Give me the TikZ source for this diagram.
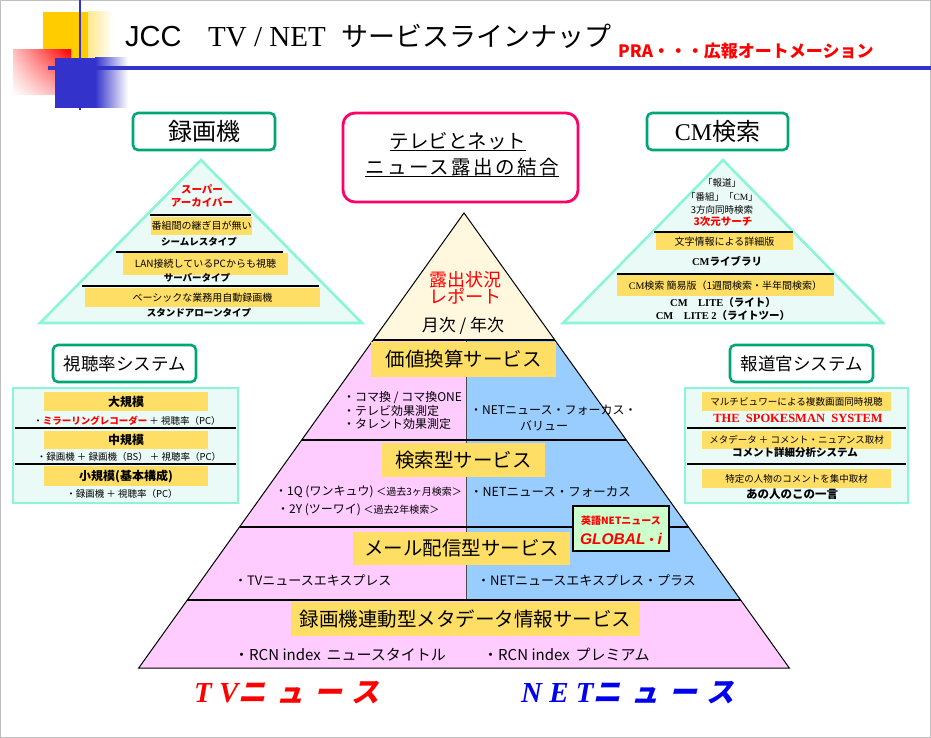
\documentclass[tikz,border=0pt]{standalone}
\usepackage{fontspec}
\setmainfont{Noto Sans CJK JP}
\newfontfamily\tms{Liberation Serif}
\newfontfamily\arl{Liberation Sans}
\newfontfamily\jpwide[LetterSpace=12]{Noto Sans CJK JP}
\newfontfamily\jpsl[FakeSlant=0.22,LetterSpace=36]{Noto Sans CJK JP}
\newfontfamily\tmssl[LetterSpace=25]{Liberation Serif}
\usetikzlibrary{positioning,shadings}
\newcommand\fsz[1]{\fontsize{#1}{#1}\selectfont}

\definecolor{ylw}{RGB}{255,222,102}
\definecolor{sqylw}{RGB}{255,204,0}
\definecolor{pinkfill}{RGB}{255,204,255}
\definecolor{bluefill}{RGB}{153,204,255}
\definecolor{cream}{RGB}{255,247,222}
\definecolor{aqua}{RGB}{140,245,215}
\definecolor{aquafill}{RGB}{234,251,247}
\definecolor{grn}{RGB}{0,166,118}
\definecolor{rose}{RGB}{255,0,102}
\definecolor{bar}{RGB}{51,51,204}
\definecolor{lgrn}{RGB}{204,255,204}
\definecolor{netblue}{RGB}{0,0,238}

\begin{document}
\begin{tikzpicture}[x=1pt,y=-1pt,
  titlebox/.style={draw=grn,line width=2.6pt,rounded corners=5pt,fill=white,inner sep=0pt},
  band/.style={fill=ylw,inner sep=0pt},
  divline/.style={line width=2.6pt},
  aquaarea/.style={draw=aqua,line width=2.6pt,fill=aquafill},
  txt/.style={inner sep=0pt}]
\useasboundingbox (0,0) rectangle (931,738);
\draw[black!25] (0.5,0.5) rectangle (930.5,737.5);

% corner squares and title
\fill[sqylw] (43,12) rectangle (88,58);
\shade[left color=sqylw!45,right color=white] (88,12) rectangle (113,58);
\shade[upper right=red,upper left=red!25,lower right=red!35,lower left=white] (13,50) rectangle (71,95);
\fill[bar] (55,58) rectangle (95,108);
\shade[left color=bar,right color=white] (95,58) rectangle (128,108);
\draw[bar,line width=1.2pt] (80,0) -- (80,110);
\draw[bar,line width=4pt] (48,68) -- (931,68);
\node[txt,anchor=base west,font=\arl\fsz{29}] (ttlA) at (125,47) {JCC};
\node[txt,anchor=base west,font=\tms\fsz{29}] (ttlB) at (208,47) {TV / NET};
\node[txt,anchor=base west,font=\fsz{27}] (ttlC) at (341,47) {サービスラインナップ};
\node[txt,anchor=base west,font=\bfseries\fsz{17},text=red] (pra) at (618,58) {PRA・・・広報オートメーション};

% heading boxes
\node[titlebox,minimum width=142,minimum height=37,font=\fsz{24}] (rokuga) at (204,131.5) {録画機};
\node[titlebox,minimum width=141,minimum height=37,font=\fsz{24}] (cmken) at (717.5,131.5) {{\tms CM}検索};
\draw[rose,line width=2.8pt,rounded corners=12pt,fill=white] (343,113) rectangle (578,202);
\node[txt,font=\fsz{19.5}] (ct1) at (458,141) {テレビとネット};
\node[txt,font=\jpwide\fsz{19.5}] (ct2) at (462,167) {ニュース露出の結合};
\draw[line width=0.8pt] (ct1.south west) -- (ct1.south east);
\draw[line width=0.8pt] (ct2.south west) -- (ct2.south east);

% left small pyramid
\filldraw[aquaarea] (201,160) -- (40,323) -- (362,323) -- cycle;
\node[txt,font=\bfseries\fsz{10.5},text=red,align=center] (super) at (202,196) {スーパー\\[2pt]アーカイバー};
\draw[divline,line width=2pt] (150,215) -- (251,215);
\node[band,minimum width=101,minimum height=18,font=\fsz{10}] (lb1) at (201.5,226) {番組間の継ぎ目が無い};
\node[txt,font=\bfseries\fsz{9.5}] (lt1) at (199,242) {シームレスタイプ};
\draw[divline,line width=2pt] (116,252) -- (283,252);
\node[band,minimum width=165,minimum height=22,font=\fsz{10}] (lb2) at (205.5,264) {LAN接続しているPCからも視聴};
\node[txt,font=\bfseries\fsz{9.5}] (lt2) at (197,278) {サーバータイプ};
\draw[divline,line width=2pt] (82,286) -- (319,286);
\node[band,minimum width=235,minimum height=19,font=\fsz{10}] (lb3) at (202.5,297.5) {ベーシックな業務用自動録画機};
\node[txt,font=\bfseries\fsz{9.5}] (lt3) at (199,313) {スタンドアローンタイプ};

% right small pyramid
\filldraw[aquaarea] (723,160) -- (563,323) -- (883,323) -- cycle;
\node[txt,font=\fsz{9.5}] (rt0a) at (722,183) {「報道」};
\node[txt,font=\fsz{9.5}] (rt0b) at (722,196.5) {「番組」「{\tms CM}」};
\node[txt,font=\fsz{9.5}] (rt0c) at (722,209.5) {3方向同時検索};
\node[txt,font=\bfseries\fsz{10.5},text=red] (rt1) at (723,221.5) {3次元サーチ};
\draw[divline,line width=2pt] (654,232) -- (793,232);
\node[band,minimum width=137,minimum height=17,font=\fsz{10}] (rb1) at (724.5,241.5) {文字情報による詳細版};
\node[txt,font=\bfseries\fsz{10.5}] (rt2) at (727,261) {{\tms CM}ライブラリ};
\draw[divline,line width=2pt] (617,274) -- (834,274);
\node[band,minimum width=217,minimum height=21,font=\fsz{10}] (rb2) at (725.5,285.5) {{\tms CM}検索 簡易版（1週間検索・半年間検索）};
\node[txt,font=\bfseries\fsz{10.5}] (rt3) at (723,303) {{\tms CM\quad LITE}（ライト）};
\node[txt,font=\bfseries\fsz{10.5}] (rt4) at (723,316) {{\tms CM\quad LITE 2}（ライトツー）};

% left panel
\node[titlebox,minimum width=143,minimum height=37,font=\fsz{17.5}] (shicho) at (124.5,363.5) {視聴率システム};
\filldraw[aquaarea] (13,388) rectangle (238,503);
\node[band,minimum width=164,minimum height=19,font=\bfseries\fsz{12}] (lp1) at (126,401.5) {大規模};
\node[txt,font=\fsz{9.5}] (lq1) at (127,421) {・{\color{red}\bfseries ミラーリングレコーダー} ＋ 視聴率（PC）};
\draw[divline] (15,428) -- (236,428);
\node[band,minimum width=164,minimum height=18,font=\bfseries\fsz{12}] (lp2) at (126,440) {中規模};
\node[txt,font=\fsz{9.5}] (lq2) at (129,457) {・録画機 ＋ 録画機（BS） ＋ 視聴率（PC）};
\draw[divline] (15,464) -- (236,464);
\node[band,minimum width=164,minimum height=20,font=\bfseries\fsz{12}] (lp3) at (126,476) {小規模(基本構成)};
\node[txt,font=\fsz{9.5}] (lq3) at (122,494) {・録画機 ＋ 視聴率（PC）};

% right panel
\node[titlebox,minimum width=143,minimum height=37,font=\fsz{17.5}] (hodo) at (801.5,363.5) {報道官システム};
\filldraw[aquaarea] (685,388) rectangle (908,503);
\node[band,minimum width=189,minimum height=19,font=\fsz{9.6}] (rp1) at (796.5,401.5) {マルチビュワーによる複数画面同時視聴};
\node[txt,font=\tms\bfseries\fsz{12.5},text=red] (rq1) at (798,418) {THE\enspace SPOKESMAN\enspace SYSTEM};
\draw[divline] (687,428) -- (906,428);
\node[band,minimum width=189,minimum height=18,font=\fsz{9.5}] (rp2) at (796.5,440) {メタデータ ＋ コメント・ニュアンス取材};
\node[txt,font=\bfseries\fsz{10.5}] (rq2) at (795,453) {コメント詳細分析システム};
\draw[divline] (687,464) -- (906,464);
\node[band,minimum width=189,minimum height=19,font=\fsz{9.5}] (rp3) at (796.5,478.5) {特定の人物のコメントを集中取材};
\node[txt,font=\bfseries\fsz{11.5}] (rq3) at (792,494) {あの人のこの一言};

% main pyramid
\coordinate (apex) at (464,213);
\fill[cream] (apex) -- (373.2,340) -- (554.8,340) -- cycle;
\fill[pinkfill] (373.2,340) -- (466,340) -- (466,600) -- (187.3,600) -- cycle;
\fill[bluefill] (466,340) -- (554.8,340) -- (740.7,600) -- (466,600) -- cycle;
\fill[pinkfill] (187.3,600) -- (740.7,600) -- (789.3,668) -- (138.7,668) -- cycle;
\draw[black!70,line width=0.8pt] (466,340) -- (466,600);
\draw[line width=1pt] (apex) -- (138.7,668) -- (789.3,668) -- cycle;
\foreach \y/\xl/\xr in {340/373.2/554.8,440/301.7/626.3,527/239.5/688.5,600/187.3/740.7}
  \draw[divline] (\xl,\y) -- (\xr,\y);

\node[txt,font=\fsz{18},text=red,align=center] (roshutsu) at (465,288) {露出状況\\[-1pt]レポート};
\node[txt,font=\fsz{17}] (getsuji) at (463,326) {月次 / 年次};

\node[band,minimum width=185,minimum height=35,font=\fsz{19.5}] (kachi) at (463.5,359.5) {価値換算サービス};
\node[txt,anchor=west,font=\fsz{12},align=left] (kachiL) at (343,410.5) {・コマ換 / コマ換ONE\\[1pt]・テレビ効果測定\\[1pt]・タレント効果測定};
\node[txt,anchor=west,font=\fsz{12}] (kachiR1) at (470,410) {・NETニュース・フォーカス・};
\node[txt,font=\fsz{12}] (kachiR2) at (544,426) {バリュー};

\node[band,minimum width=163,minimum height=34,font=\fsz{19.5}] (kensaku) at (463.5,460) {検索型サービス};
\node[txt,anchor=west,font=\fsz{12}] (kenL1) at (275,492) {・1Q (ワンキュウ) {\fsz{10}＜過去3ヶ月検索＞}};
\node[txt,anchor=west,font=\fsz{12}] (kenL2) at (277,510) {・2Y (ツーワイ) {\fsz{10}＜過去2年検索＞}};
\node[txt,anchor=west,font=\fsz{12.5}] (kenR) at (470,492) {・NETニュース・フォーカス};

\node[band,minimum width=217,minimum height=33,font=\fsz{19.5}] (mail) at (461.5,548) {メール配信型サービス};
\node[txt,anchor=west,font=\fsz{13}] (mailL) at (234,580) {・TVニュースエキスプレス};
\node[txt,anchor=west,font=\fsz{13}] (mailR) at (477,580) {・NETニュースエキスプレス・プラス};

\node[draw,line width=1.8pt,fill=lgrn,minimum width=96,minimum height=45,inner sep=0pt] (glob) at (621,528.5) {};
\node[txt,font=\bfseries\fsz{10},text=red] (globA) at (621,521) {英語NETニュース};
\node[txt,font=\arl\bfseries\itshape\fsz{15.5},text=red] (globB) at (621,539) {GLOBAL{\normalfont\bfseries\fsz{12}・}i};

\node[band,minimum width=349,minimum height=34,font=\fsz{19.5}] (meta) at (465.5,619) {録画機連動型メタデータ情報サービス};
\node[txt,anchor=west,font=\fsz{15}] (metaL) at (234,655) {・RCN index\, ニュースタイトル};
\node[txt,anchor=west,font=\fsz{15}] (metaR) at (483,655) {・RCN index\, プレミアム};

% bottom captions
\node[txt,anchor=west,text=red] (tvnews) at (194,693) {{\tmssl\bfseries\itshape\fsz{29}TV}{\jpsl\bfseries\fsz{28}ニュース}};
\node[txt,anchor=west,text=netblue] (netnews) at (521,693) {{\tmssl\bfseries\itshape\fsz{29}NET}{\jpsl\bfseries\fsz{28}ニュース}};
\end{tikzpicture}
\end{document}
